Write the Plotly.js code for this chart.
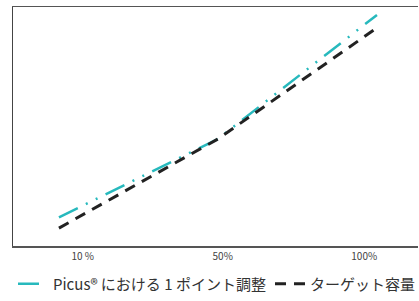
<!DOCTYPE html>
<html>
<head>
<meta charset="utf-8">
<script src="https://cdn.plot.ly/plotly-3.0.1.min.js"></script>
<style>
html,body{margin:0;padding:0;overflow:hidden;background:#fff;}
#chart{width:560px;height:301px;}
</style>
</head>
<body>
<div id="chart"></div>
<script>
// Data (x: point index along the volume scale, y: relative volume units)
const pointIndex = [0, 1, 2];
const picusValues = [12.0, 44.8, 96.7];
const targetValues = [7.5, 44.8, 91.3];
const seriesNames = ["Picus® における 1 ポイント調整", "ターゲット容量"];
const tickLabels = ["10 %", "50%", "100%"];
const tickPositions = [0.15, 1.03, 1.92];

const font = "'Noto Sans CJK JP', 'Noto Sans', sans-serif";

const traces = [
  {
    x: pointIndex, y: picusValues, name: seriesNames[0],
    type: "scatter", mode: "lines",
    line: {color: "#27b9bd", width: 2.5, dash: "21px,9px,2px,9px,2px,9px"}
  },
  {
    x: pointIndex, y: targetValues, name: seriesNames[1],
    type: "scatter", mode: "lines",
    line: {color: "#222222", width: 3, dash: "11px,8px"}
  }
];

const layout = {
  width: 560, height: 301,
  margin: {l: 13, r: 0, t: 7, b: 53},
  paper_bgcolor: "#fff", plot_bgcolor: "#fff",
  font: {family: font, color: "#333"},
  showlegend: true,
  legend: {
    orientation: "h", x: 0, xanchor: "left", y: -0.09, yanchor: "top",
    font: {family: font, size: 15, color: "#333"},
    entrywidth: 212, entrywidthmode: "pixels",
    itemclick: false, itemdoubleclick: false
  },
  xaxis: {
    domain: [0, 405/547],
    range: [-0.289, 2.258],
    showgrid: false, zeroline: false,
    showline: true, mirror: true, linecolor: "#555", linewidth: 1.5,
    tickvals: tickPositions, ticktext: tickLabels,
    ticks: "", tickfont: {family: font, size: 10, color: "#444"},
    fixedrange: true
  },
  yaxis: {
    range: [0, 100],
    showgrid: false, zeroline: false,
    showline: true, mirror: false, linecolor: "#444", linewidth: 1.5,
    showticklabels: false, ticks: "",
    fixedrange: true
  }
};

Plotly.newPlot("chart", traces, layout, {displayModeBar: false, staticPlot: true});
</script>
</body>
</html>
